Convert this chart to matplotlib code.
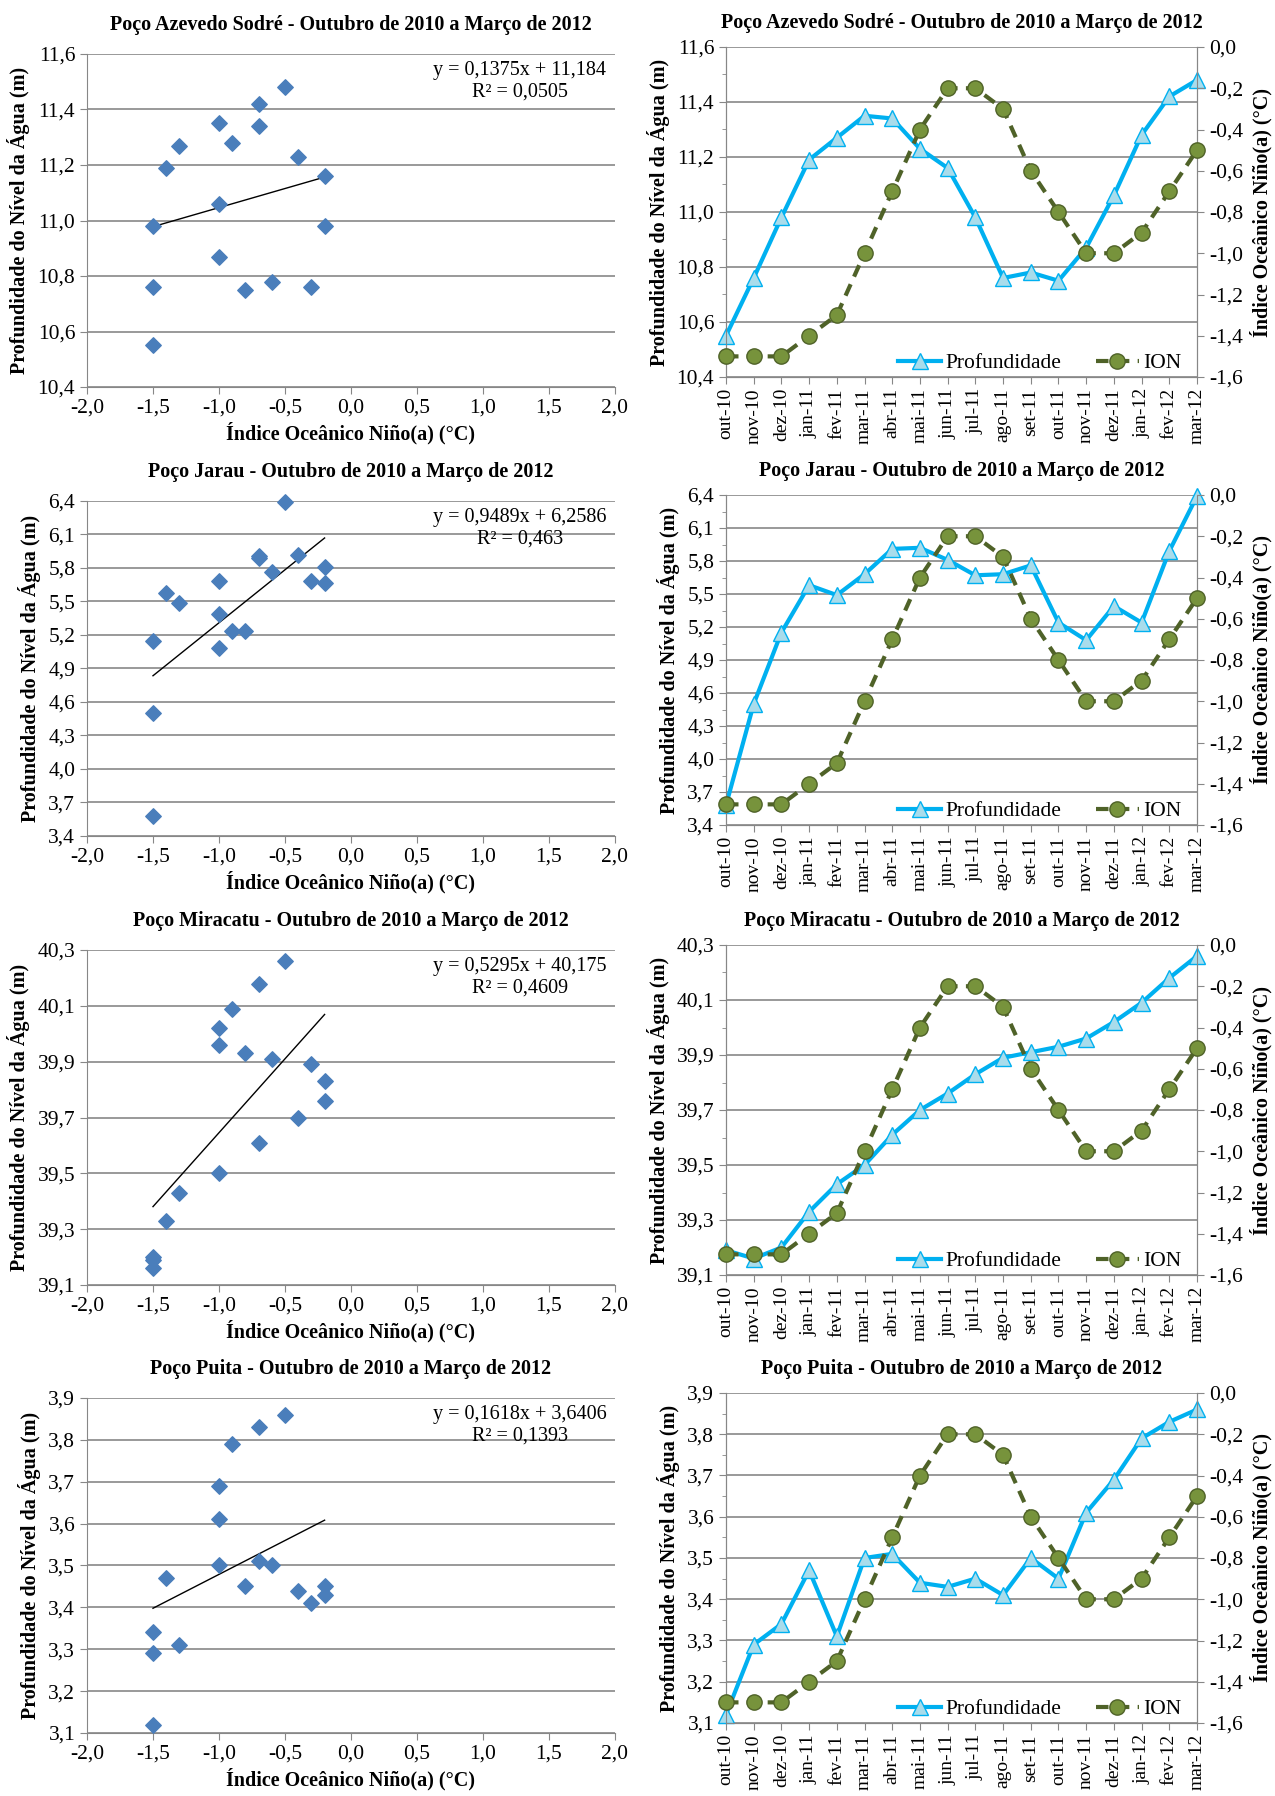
#----------------------------------------------------------------------------------------------------
# Imports
#----------------------------------------------------------------------------------------------------
import numpy as np
import matplotlib
matplotlib.use("Agg")
import matplotlib.pyplot as plt
from matplotlib.ticker import FuncFormatter, MultipleLocator, FixedLocator

plt.rcParams["font.family"] = ["Liberation Serif", "DejaVu Serif"]

#----------------------------------------------------------------------------------------------------
# Data
#----------------------------------------------------------------------------------------------------
months = ["out-10", "nov-10", "dez-10", "jan-11", "fev-11", "mar-11", "abr-11", "mai-11", "jun-11",
          "jul-11", "ago-11", "set-11", "out-11", "nov-11", "dez-11", "jan-12", "fev-12", "mar-12"]

ion = [-1.5, -1.5, -1.5, -1.4, -1.3, -1.0, -0.7, -0.4, -0.2,
       -0.2, -0.3, -0.6, -0.8, -1.0, -1.0, -0.9, -0.7, -0.5]

wells = ["Azevedo Sodré", "Jarau", "Miracatu", "Puita"]

depth_azevedo = [10.55, 10.76, 10.98, 11.19, 11.27, 11.35, 11.34, 11.23, 11.16,
                 10.98, 10.76, 10.78, 10.75, 10.87, 11.06, 11.28, 11.42, 11.48]
depth_jarau = [3.58, 4.50, 5.15, 5.58, 5.49, 5.68, 5.91, 5.92, 5.81,
               5.67, 5.68, 5.76, 5.24, 5.08, 5.39, 5.24, 5.89, 6.39]
depth_miracatu = [39.19, 39.16, 39.20, 39.33, 39.43, 39.50, 39.61, 39.70, 39.76,
                  39.83, 39.89, 39.91, 39.93, 39.96, 40.02, 40.09, 40.18, 40.26]
depth_puita = [3.12, 3.29, 3.34, 3.47, 3.31, 3.50, 3.51, 3.44, 3.43,
               3.45, 3.41, 3.50, 3.45, 3.61, 3.69, 3.79, 3.83, 3.86]
depths = [depth_azevedo, depth_jarau, depth_miracatu, depth_puita]

# trendline coefficients as printed on the chart
slopes = [0.1375, 0.9489, 0.5295, 0.1618]
intercepts = [11.184, 6.2586, 40.175, 3.6406]
eq_texts = ["y = 0,1375x + 11,184\nR² = 0,0505",
            "y = 0,9489x + 6,2586\nR² = 0,463",
            "y = 0,5295x + 40,175\nR² = 0,4609",
            "y = 0,1618x + 3,6406\nR² = 0,1393"]

# y axis ranges (min, max, step)
y_ranges = [(10.4, 11.6, 0.2), (3.4, 6.4, 0.3), (39.1, 40.3, 0.2), (3.1, 3.9, 0.1)]

#----------------------------------------------------------------------------------------------------
# Layout (pixels in a 1275x1796 figure)
#----------------------------------------------------------------------------------------------------
W, H = 1275, 1796
left_rows = [(54, 387), (501, 836), (950, 1285), (1398, 1733)]
right_rows = [(47, 377), (495, 825), (945, 1275), (1393, 1723)]
left_x = (87, 615)
right_x = (726, 1197)

grid_col = "#878787"
scatter_col = "#4A7EBB"
depth_col = "#00B0F0"
depth_face = "#A9DCEB"
ion_col = "#4F6228"
ion_face = "#77933C"

comma1 = FuncFormatter(lambda v, p: f"{v:.1f}".replace(".", ",").replace("-0,0", "0,0"))

TICK = 15.5
LAB = 14.5

fig = plt.figure(figsize=(W / 100, H / 100), dpi=100)


def ax_rect(xr, yr):
    return [xr[0] / W, 1 - yr[1] / H, (xr[1] - xr[0]) / W, (yr[1] - yr[0]) / H]


for i, well in enumerate(wells):
    title = f"Poço {well} - Outubro de 2010 a Março de 2012"
    ymin, ymax, ystep = y_ranges[i]
    d = depths[i]
    yticks = np.round(np.arange(ymin, ymax + ystep / 4, ystep), 4)
    yminor = np.round(np.arange(ymin, ymax + ystep / 4, ystep / 2), 4)

    #------------------------------------------------------------------------------------------------
    # Scatter with trendline
    #------------------------------------------------------------------------------------------------
    ax = fig.add_axes(ax_rect(left_x, left_rows[i]))
    ax.scatter(ion, d, marker="D", s=62, color=scatter_col, zorder=3, clip_on=False)
    xt = np.array([min(ion), max(ion)])
    ax.plot(xt, slopes[i] * xt + intercepts[i], color="black", lw=1.0, zorder=2)
    ax.text(0.82, 0.98, eq_texts[i], transform=ax.transAxes, ha="center", va="top",
            fontsize=14.5, linespacing=1.2)

    ax.set_xlim(-2.0, 2.0)
    ax.set_ylim(ymin, ymax)
    ax.xaxis.set_major_locator(MultipleLocator(0.5))
    ax.yaxis.set_major_locator(FixedLocator(yticks))
    ax.xaxis.set_major_formatter(comma1)
    ax.yaxis.set_major_formatter(comma1)
    ax.grid(True, axis="y", color=grid_col, lw=1.2)
    ax.set_axisbelow(True)
    for s in ["top", "right"]:
        ax.spines[s].set_visible(False)
    for s in ["left", "bottom"]:
        ax.spines[s].set_color(grid_col)
    ax.tick_params(direction="out", length=5, color=grid_col, labelsize=TICK)
    ax.set_xlabel("Índice Oceânico Niño(a) (°C)", fontsize=LAB, fontweight="bold", labelpad=3)
    ax.set_ylabel("Profundidade do Nível da Água (m)", fontsize=LAB, fontweight="bold", labelpad=5)
    ax.set_title(title, fontsize=LAB, fontweight="bold", pad=17)

    #------------------------------------------------------------------------------------------------
    # Time series with ION on twin axis
    #------------------------------------------------------------------------------------------------
    ax1 = fig.add_axes(ax_rect(right_x, right_rows[i]))
    xs = np.arange(len(months))
    l1, = ax1.plot(xs, d, color=depth_col, lw=3, marker="^", markersize=11,
                   markerfacecolor=depth_face, markeredgecolor=depth_col, markeredgewidth=1,
                   zorder=3, label="Profundidade", clip_on=False)
    ax1.set_xlim(0, len(months) - 1)
    ax1.set_ylim(ymin, ymax)
    ax1.set_xticks(xs)
    ax1.set_xticklabels(months, rotation=90)
    ax1.yaxis.set_major_locator(FixedLocator(yticks))
    ax1.yaxis.set_minor_locator(FixedLocator(yminor))
    ax1.yaxis.set_major_formatter(comma1)
    ax1.grid(True, axis="y", color=grid_col, lw=1.2)
    ax1.set_axisbelow(True)
    for s in ax1.spines.values():
        s.set_color(grid_col)
    ax1.spines["top"].set_visible(False)
    ax1.tick_params(direction="out", length=5, color=grid_col, labelsize=TICK)
    ax1.tick_params(axis="x", labelsize=14, pad=3)
    ax1.tick_params(which="minor", direction="out", length=3, color=grid_col)
    ax1.set_ylabel("Profundidade do Nível da Água (m)", fontsize=LAB, fontweight="bold", labelpad=5)
    ax1.set_title(title, fontsize=LAB, fontweight="bold", pad=14)

    ax2 = ax1.twinx()
    l2, = ax2.plot(xs, ion, color=ion_col, lw=3, ls=(0, (3, 2)), marker="o", markersize=11,
                   markerfacecolor=ion_face, markeredgecolor=ion_col, markeredgewidth=1,
                   zorder=3, label="ION", clip_on=False)
    ax2.set_ylim(-1.6, 0.0)
    ax2.yaxis.set_major_locator(FixedLocator(np.round(np.arange(-1.6, 0.05, 0.2), 1)))
    ax2.yaxis.set_major_formatter(comma1)
    for s in ax2.spines.values():
        s.set_color(grid_col)
    ax2.spines["top"].set_visible(False)
    ax2.tick_params(direction="out", length=5, color=grid_col, labelsize=TICK)
    ax2.set_ylabel("Índice Oceânico Niño(a) (°C)", fontsize=LAB, fontweight="bold", labelpad=5)

    ax2.legend(handles=[l1, l2], loc="lower right", ncol=2, frameon=False, fontsize=15.5,
               handlelength=2.0, columnspacing=1.6, borderaxespad=0.0, handletextpad=0.2,
               bbox_to_anchor=(0.985, -0.015))

fig.savefig("out.png", dpi=100)
